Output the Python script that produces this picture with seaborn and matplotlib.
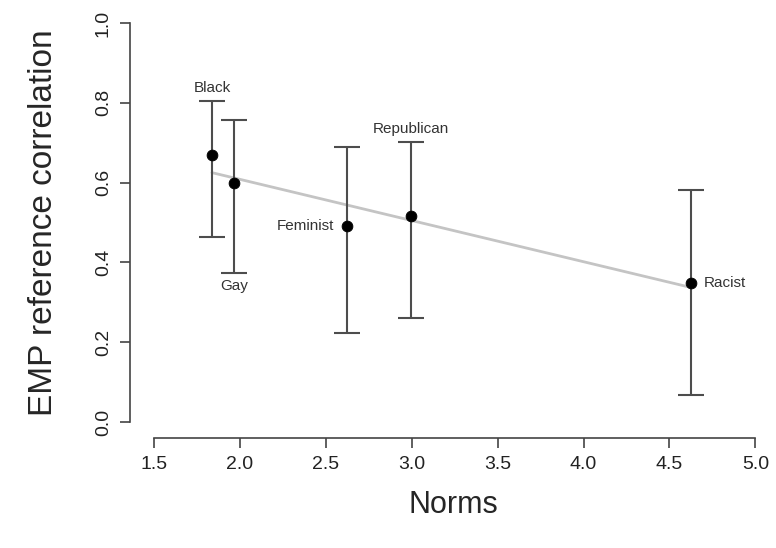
import matplotlib
matplotlib.use("Agg")
import matplotlib.pyplot as plt
import seaborn as sns
import numpy as np
import pandas as pd

categories = ["Black", "Gay", "Feminist", "Republican", "Racist"]
norms = [1.837, 1.965, 2.622, 2.994, 4.628]
corr = [0.669, 0.599, 0.491, 0.516, 0.348]
ci_low = [0.464, 0.373, 0.223, 0.261, 0.068]
ci_high = [0.805, 0.757, 0.689, 0.702, 0.581]
x_ticks = [1.5, 2.0, 2.5, 3.0, 3.5, 4.0, 4.5, 5.0]
y_ticks = [0.0, 0.2, 0.4, 0.6, 0.8, 1.0]

df = pd.DataFrame({"cat": categories, "Norms": norms, "corr": corr,
                   "lo": ci_low, "hi": ci_high})

sns.set_style("ticks")
plt.rcParams["font.family"] = ["Liberation Sans", "DejaVu Sans"]

fig = plt.figure(figsize=(7.76, 5.48), dpi=100)
ax = fig.add_axes([130 / 776, (548 - 438) / 548, 646 / 776, 431 / 548])

# regression line
sns.regplot(data=df, x="Norms", y="corr", scatter=False, ci=None,
            color="#c4c4c4", line_kws={"linewidth": 2.0}, truncate=True, ax=ax)

# error bars
yerr = np.vstack([df["corr"] - df["lo"], df["hi"] - df["corr"]])
ax.errorbar(df["Norms"], df["corr"], yerr=yerr, fmt="none", ecolor="#4d4d4d",
            elinewidth=1.5, capsize=9.5, capthick=1.5, zorder=3)

sns.scatterplot(data=df, x="Norms", y="corr", color="black", s=60,
                edgecolor="black", zorder=4, ax=ax, legend=False)

# labels
ann = {
    "Black": ("hi", (0, 4), "center", "bottom"),
    "Gay": ("lo", (0, -4), "center", "top"),
    "Feminist": ("mid", (-9, 0), "right", "center"),
    "Republican": ("hi", (0, 4), "center", "bottom"),
    "Racist": ("mid", (9, 0), "left", "center"),
}
for _, r in df.iterrows():
    where, off, ha, va = ann[r["cat"]]
    yv = r["hi"] if where == "hi" else (r["lo"] if where == "lo" else r["corr"])
    ax.annotate(r["cat"], (r["Norms"], yv), xytext=off, textcoords="offset points",
                ha=ha, va=va, fontsize=11, color="#333333")

ax.set_xlim(1.36, 5.12)
ax.set_ylim(-0.04, 1.04)
ax.set_xticks(x_ticks)
ax.set_xticklabels([f"{v:.1f}" for v in x_ticks])
ax.set_yticks(y_ticks)
ax.set_yticklabels([f"{v:.1f}" for v in y_ticks], rotation=90, va="center")
ax.tick_params(axis="both", labelsize=14, length=7, width=1.2, color="#444444",
               labelcolor="#222222", pad=6)

for s in ["top", "right"]:
    ax.spines[s].set_visible(False)
ax.spines["left"].set_bounds(0, 1)
ax.spines["bottom"].set_bounds(1.5, 5.0)
for s in ["left", "bottom"]:
    ax.spines[s].set_linewidth(1.2)
    ax.spines[s].set_color("#444444")

ax.set_xlabel("Norms", fontsize=22, labelpad=12)
ax.set_ylabel("EMP reference correlation", fontsize=24, labelpad=26)

fig.savefig("out.png", dpi=100)
